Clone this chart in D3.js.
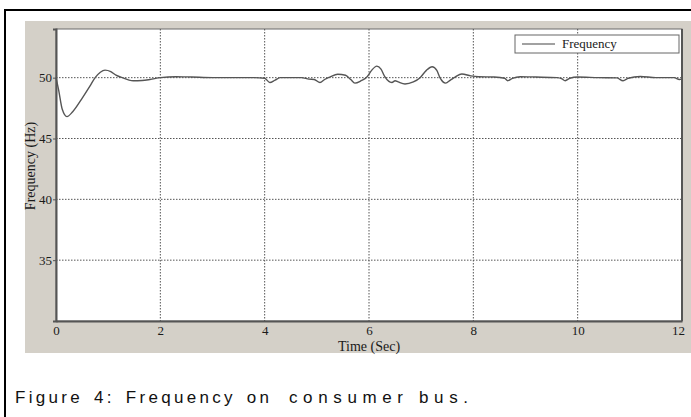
<!DOCTYPE html>
<html>
<head>
<meta charset="utf-8">
<script src="https://cdn.jsdelivr.net/npm/d3@7"></script>
<style>
  body { margin: 0; background: #fff; }
  svg { display: block; }
  .tick text { font-family: "Liberation Serif", serif; font-size: 13px; fill: #1a1a1a; }
</style>
</head>
<body>
<svg width="691" height="417"></svg>
<script>
// time axis (sec)
const TIME = [0, 0.05, 0.12, 0.21, 0.32, 0.5, 0.65, 0.75, 0.85, 0.94, 1.05, 1.15, 1.27, 1.4, 1.48, 1.65, 1.8,
    2.0, 2.3, 2.6, 3.0, 3.4, 3.8, 4.0, 4.1, 4.2, 4.3, 4.7, 4.85, 4.95, 5.06, 5.15, 5.25, 5.4, 5.55, 5.65, 5.73,
    5.85, 5.96, 6.05, 6.15, 6.23, 6.3, 6.44, 6.5, 6.56, 6.69, 6.85, 6.98, 7.1, 7.21, 7.3, 7.36, 7.47, 7.56,
    7.65, 7.78, 7.95, 8.1, 8.4, 8.6, 8.66, 8.75, 8.9, 9.2, 9.6, 9.7, 9.76, 9.85, 10.0, 10.4, 10.75, 10.87,
    10.97, 11.2, 11.5, 11.85, 11.95, 12.0];
// frequency (Hz)
const FREQ = [50.0, 49.0, 47.4, 46.8, 47.2, 48.3, 49.3, 50.0, 50.45, 50.62, 50.5, 50.2, 50.0, 49.8, 49.75, 49.77, 49.85,
    50.0, 50.08, 50.05, 50.0, 50.0, 50.0, 49.95, 49.6, 49.8, 50.0, 50.0, 49.88, 49.85, 49.6, 49.85, 50.05, 50.28, 50.2, 49.85, 49.55,
    49.75, 50.05, 50.6, 50.95, 50.7, 50.1, 49.6, 49.75, 49.65, 49.48, 49.65, 50.0, 50.6, 50.9, 50.6, 50.0, 49.55, 49.8,
    50.05, 50.3, 50.15, 50.08, 50.05, 49.95, 49.75, 49.95, 50.08, 50.05, 50.0, 49.9, 49.75, 49.95, 50.05, 50.0, 49.98, 49.75,
    49.95, 50.1, 50.0, 50.0, 49.85, 49.9];
const X_TICKS = [0, 2, 4, 6, 8, 10, 12];
const Y_TICKS = [35, 40, 45, 50];
const SERIES_NAME = 'Frequency';
// caption, split where the original spacing changes
const CAPTION = ['Figure 4:  Frequency on', 'consumer bus.'];

const data = TIME.map((t, i) => ({ t: t, f: FREQ[i] }));

const svg = d3.select('svg');

// outer black frame (open at the bottom)
svg.append('path')
    .attr('d', 'M5,417 V10 H691')
    .attr('fill', 'none')
    .attr('stroke', '#000')
    .attr('stroke-width', 2);

// grey figure panel
svg.append('rect')
    .attr('x', 25).attr('y', 21)
    .attr('width', 666).attr('height', 332)
    .attr('fill', '#d4d0c8');

const pLeft = 56, pRight = 682, pTop = 29, pBottom = 321;

const xScale = d3.scaleLinear().domain([0, 12]).range([pLeft, pRight]);
const yScale = d3.scaleLinear().domain([30, 54]).range([pBottom, pTop]);

// plot area
svg.append('rect')
    .attr('x', pLeft).attr('y', pTop)
    .attr('width', pRight - pLeft).attr('height', pBottom - pTop)
    .attr('fill', '#fff')
    .attr('stroke', '#6a6a6a')
    .attr('stroke-width', 1);

// dotted grid
svg.append('g')
    .selectAll('line')
    .data(X_TICKS.filter(d => d > 0 && d < 12))
    .enter()
    .append('line')
    .attr('x1', d => xScale(d)).attr('x2', d => xScale(d))
    .attr('y1', pTop).attr('y2', pBottom)
    .attr('stroke', '#555')
    .attr('stroke-dasharray', '1.5,1.5');

svg.append('g')
    .selectAll('line')
    .data(Y_TICKS)
    .enter()
    .append('line')
    .attr('x1', pLeft).attr('x2', pRight)
    .attr('y1', d => yScale(d)).attr('y2', d => yScale(d))
    .attr('stroke', '#555')
    .attr('stroke-dasharray', '1.5,1.5');

// axes
const xAxis = svg.append('g')
    .attr('transform', `translate(0,${pBottom})`)
    .call(d3.axisBottom(xScale).tickValues(X_TICKS).tickSize(0).tickPadding(8));
xAxis.select('.domain').attr('stroke', '#555').attr('stroke-width', 2);
xAxis.selectAll('.tick text').attr('dy', '0.45em');
xAxis.selectAll('.tick').filter(d => d === 12).select('text').attr('dx', -4);

const yAxis = svg.append('g')
    .attr('transform', `translate(${pLeft},0)`)
    .call(d3.axisLeft(yScale).tickValues(Y_TICKS).tickSize(3).tickPadding(1));
yAxis.select('.domain').attr('stroke', '#555').attr('stroke-width', 2);
yAxis.selectAll('.tick line').attr('stroke', '#555');

// right border a bit heavier
svg.append('line')
    .attr('x1', pRight).attr('x2', pRight)
    .attr('y1', pTop).attr('y2', pBottom)
    .attr('stroke', '#555').attr('stroke-width', 2);

// frequency curve
const line = d3.line()
    .x(d => xScale(d.t))
    .y(d => yScale(d.f))
    .curve(d3.curveMonotoneX);

svg.append('path')
    .datum(data)
    .attr('d', line)
    .attr('fill', 'none')
    .attr('stroke', '#555')
    .attr('stroke-width', 1.4);

// legend
const legend = svg.append('g');
legend.append('rect')
    .attr('x', 515).attr('y', 35)
    .attr('width', 164).attr('height', 18)
    .attr('fill', '#fff')
    .attr('stroke', '#666');
legend.append('line')
    .attr('x1', 522).attr('x2', 555)
    .attr('y1', 44).attr('y2', 44)
    .attr('stroke', '#444').attr('stroke-width', 1.2);
legend.append('text')
    .attr('x', 562).attr('y', 48)
    .attr('font-family', 'Liberation Serif, serif')
    .attr('font-size', 13)
    .attr('fill', '#1a1a1a')
    .text(SERIES_NAME);

// axis titles
svg.append('text')
    .attr('x', 369).attr('y', 351)
    .attr('text-anchor', 'middle')
    .attr('font-family', 'Liberation Serif, serif')
    .attr('font-size', 14)
    .attr('fill', '#1a1a1a')
    .text('Time (Sec)');

svg.append('text')
    .attr('transform', 'translate(35,166) rotate(-90)')
    .attr('text-anchor', 'middle')
    .attr('font-family', 'Liberation Serif, serif')
    .attr('font-size', 14)
    .attr('fill', '#1a1a1a')
    .text('Frequency (Hz)');

// caption below the figure
const caption = svg.append('text')
    .attr('y', 403)
    .attr('font-family', 'Liberation Sans, Arial, sans-serif')
    .attr('font-size', 17)
    .attr('fill', '#111');
caption.append('tspan')
    .attr('x', 15)
    .attr('letter-spacing', 3.3)
    .attr('word-spacing', 3)
    .text(CAPTION[0] + ' ');
caption.append('tspan')
    .attr('x', 289)
    .attr('textLength', 179)
    .attr('lengthAdjust', 'spacing')
    .text(CAPTION[1]);
</script>
</body>
</html>
